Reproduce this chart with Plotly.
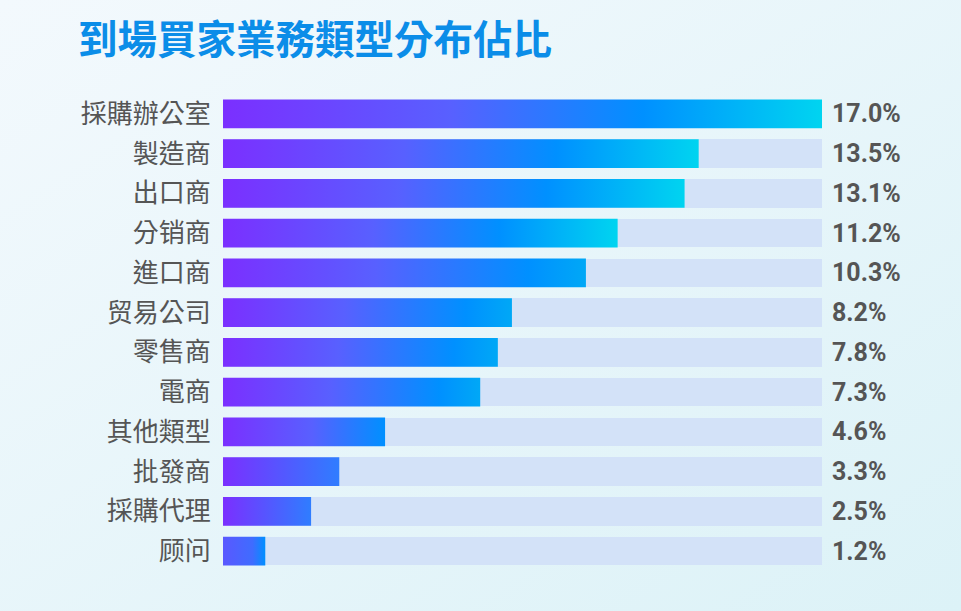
import base64
import plotly.graph_objects as go

# buyer business type share (%)
categories = ["採購辦公室", "製造商", "出口商", "分销商", "進口商", "贸易公司",
              "零售商", "電商", "其他類型", "批發商", "採購代理", "顾问"]
shares = [17.0, 13.5, 13.1, 11.2, 10.3, 8.2, 7.8, 7.3, 4.6, 3.3, 2.5, 1.2]

TITLE = "到場買家業務類型分布佔比"
PURPLE = "#7b2fff"
MID = "#5860ff"
BLUE = "#0090ff"
CYAN = "#00d4f0"
TRACK = "#d3e2f8"
LABEL_GREY = "#555555"
BAR_HALF = 0.36

track_max = max(shares)


def bar_scale(v):
    # longer bars fade on to cyan, short ones stop at blue
    if v >= 11:
        return [[0, PURPLE], [0.38, MID], [0.7, BLUE], [1, CYAN]]
    if v >= 7:
        return [[0, PURPLE], [0.42, MID], [0.84, BLUE], [1, "#00a8f6"]]
    if v >= 4:
        return [[0, PURPLE], [0.55, MID], [1, BLUE]]
    if v >= 2:
        return [[0, PURPLE], [1, "#2f7dff"]]
    return [[0, "#5a58ff"], [0.7, "#3f6cff"], [1, BLUE]]


fig = go.Figure()

# background tracks
fig.add_trace(go.Bar(
    x=[track_max] * len(categories),
    y=list(range(len(categories))),
    orientation="h",
    width=BAR_HALF * 2,
    marker=dict(color=TRACK, line=dict(width=0)),
    hoverinfo="skip",
    showlegend=False,
))

# gradient bars
for i, (name, v) in enumerate(zip(categories, shares)):
    fig.add_trace(go.Scatter(
        x=[0, v, v, 0, 0],
        y=[i - BAR_HALF, i - BAR_HALF, i + BAR_HALF, i + BAR_HALF, i - BAR_HALF],
        mode="lines",
        line=dict(width=0),
        fill="toself",
        fillgradient=dict(type="horizontal", colorscale=bar_scale(v), start=0, stop=v),
        name=name,
        hoverinfo="skip",
        showlegend=False,
    ))

for i, v in enumerate(shares):
    fig.add_annotation(
        x=track_max, y=i, text=f"{v:.1f}%",
        xanchor="left", yanchor="middle", xshift=8, showarrow=False,
        font=dict(family="Roboto", size=25, color=LABEL_GREY, weight="bold"),
    )

svg = (
    '<svg xmlns="http://www.w3.org/2000/svg" width="961" height="611">'
    '<defs><linearGradient id="g" x1="0" y1="0" x2="1" y2="1">'
    '<stop offset="0" stop-color="#f3f9fd"/><stop offset="1" stop-color="#dcf2f7"/>'
    '</linearGradient></defs><rect width="961" height="611" fill="url(#g)"/></svg>'
)
bg_src = "data:image/svg+xml;base64," + base64.b64encode(svg.encode()).decode()

fig.update_layout(
    width=961, height=611,
    margin=dict(l=223, r=139, t=94, b=40),
    paper_bgcolor="#eaf6fb",
    plot_bgcolor="rgba(0,0,0,0)",
    images=[dict(source=bg_src, xref="paper", yref="paper", x=-223 / 599, y=1 + 94 / 477,
                 sizex=961 / 599, sizey=611 / 477, sizing="stretch", layer="below",
                 xanchor="left", yanchor="top")],
    title=dict(text=TITLE, x=78 / 961, xanchor="left", y=1 - 40 / 611, yanchor="middle",
               font=dict(family="Noto Sans CJK TC", size=39.5, color="#0b8de8", weight="bold")),
    xaxis=dict(range=[0, track_max], visible=False, fixedrange=True),
    yaxis=dict(
        range=[len(categories) - 0.5, -0.5],
        tickvals=list(range(len(categories))), ticktext=categories,
        tickfont=dict(family="Noto Sans CJK TC", size=26, color=LABEL_GREY),
        ticks="outside", ticklen=6, tickcolor="rgba(0,0,0,0)",
        showgrid=False, zeroline=False, showline=False, fixedrange=True,
    ),
    bargap=0,
)

fig.write_html("out.html", config={"displayModeBar": False},
               post_script="document.body.style.margin='0';")
